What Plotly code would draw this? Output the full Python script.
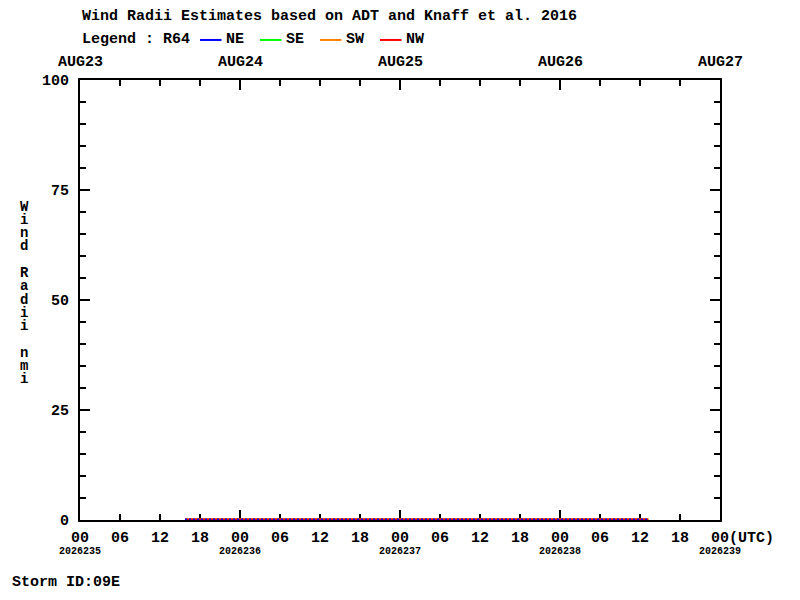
import plotly.graph_objects as go

# R64 wind radii (nmi) per quadrant
times = ["2026-08-23 15:45", "2026-08-23 18:00", "2026-08-23 21:00",
         "2026-08-24 00:00", "2026-08-24 03:00", "2026-08-24 06:00",
         "2026-08-24 09:00", "2026-08-24 12:00", "2026-08-24 15:00",
         "2026-08-24 18:00", "2026-08-24 21:00", "2026-08-25 00:00",
         "2026-08-25 03:00", "2026-08-25 06:00", "2026-08-25 09:00",
         "2026-08-25 12:00", "2026-08-25 15:00", "2026-08-25 18:00",
         "2026-08-25 21:00", "2026-08-26 00:00", "2026-08-26 03:00",
         "2026-08-26 06:00", "2026-08-26 09:00", "2026-08-26 12:00",
         "2026-08-26 13:15"]
r64_ne = [0, 0, 0, 0, 0, 0, 0, 0, 0, 0, 0, 0, 0, 0, 0, 0, 0, 0, 0, 0, 0, 0, 0, 0, 0]
r64_se = [0, 0, 0, 0, 0, 0, 0, 0, 0, 0, 0, 0, 0, 0, 0, 0, 0, 0, 0, 0, 0, 0, 0, 0, 0]
r64_sw = [0, 0, 0, 0, 0, 0, 0, 0, 0, 0, 0, 0, 0, 0, 0, 0, 0, 0, 0, 0, 0, 0, 0, 0, 0]
r64_nw = [0, 0, 0, 0, 0, 0, 0, 0, 0, 0, 0, 0, 0, 0, 0, 0, 0, 0, 0, 0, 0, 0, 0, 0, 0]

hour_ticks = ["2026-08-23 00:00", "2026-08-23 06:00", "2026-08-23 12:00", "2026-08-23 18:00",
              "2026-08-24 00:00", "2026-08-24 06:00", "2026-08-24 12:00", "2026-08-24 18:00",
              "2026-08-25 00:00", "2026-08-25 06:00", "2026-08-25 12:00", "2026-08-25 18:00",
              "2026-08-26 00:00", "2026-08-26 06:00", "2026-08-26 12:00", "2026-08-26 18:00",
              "2026-08-27 00:00"]
hour_labels = ["00", "06", "12", "18", "00", "06", "12", "18", "00", "06", "12", "18",
               "00", "06", "12", "18", "\u00a0" * 5 + "00(UTC)"]
day_ticks = ["2026-08-23", "2026-08-24", "2026-08-25", "2026-08-26", "2026-08-27"]
day_labels = ["AUG23", "AUG24", "AUG25", "AUG26", "AUG27"]
julian_labels = ["2026235", "2026236", "2026237", "2026238", "2026239"]

y_ticks = [0, 25, 50, 75, 100]

title = "Wind Radii Estimates based on ADT and Knaff et al. 2016"
legend_title = "Legend : R64"
quadrants = ["NE", "SE", "SW", "NW"]
colors = {"NE": "#0000ff", "SE": "#00ff00", "SW": "#ff8000", "NW": "#ff0000"}
y_title = "Wind Radii nmi"
storm_id = "Storm ID:09E"

FONT = "Liberation Mono"
series = {"NE": r64_ne, "SE": r64_se, "SW": r64_sw, "NW": r64_nw}

fig = go.Figure()
# red underneath, blue dashed on top, as in the original
for q, dash in [("SE", "solid"), ("SW", "solid"), ("NW", "solid"), ("NE", "2px,2px")]:
    fig.add_trace(go.Scatter(x=times, y=series[q], mode="lines", name=q,
                             line=dict(color=colors[q], width=2, dash=dash),
                             cliponaxis=False, showlegend=False))

# empty trace so the day-tick overlay axis is drawn
fig.add_trace(go.Scatter(x=[], y=[], xaxis="x2", showlegend=False, hoverinfo="skip"))

axis_common = dict(mirror="ticks", ticks="inside", tickcolor="black", tickwidth=2,
                   showgrid=False, zeroline=False, layer="below traces")
line_style = dict(showline=True, linecolor="black", linewidth=2)

# page has an 8px body margin, so the figure is 784x584 placed at (8, 8)
fig.update_layout(
    width=784, height=584,
    margin=dict(l=72, r=72, t=72, b=72),
    plot_bgcolor="white", paper_bgcolor="white",
    font=dict(family=FONT, size=15, color="black"),
    xaxis=dict(type="date", range=[hour_ticks[0], hour_ticks[-1]],
               tickmode="array", tickvals=hour_ticks, ticktext=hour_labels,
               ticklen=6, tickangle=0, ticklabelstandoff=2,
               tickfont=dict(family=FONT, size=15, weight="bold"),
               **line_style, **axis_common),
    xaxis2=dict(type="date", range=[hour_ticks[0], hour_ticks[-1]], overlaying="x",
                anchor="y", side="bottom", tickmode="array", tickvals=day_ticks,
                showticklabels=False, ticklen=10, showline=False, **axis_common),
    # tiny negative pad so the zero-radius lines are not clipped under the frame
    yaxis=dict(range=[-0.12, 100], tickmode="array", tickvals=y_ticks, ticklen=10,
               minor=dict(dtick=5, ticklen=6, tickwidth=2, tickcolor="black", ticks="inside"),
               ticklabelstandoff=6,
               tickfont=dict(family=FONT, size=15, weight="bold"),
               **line_style, **axis_common),
)

bold = dict(family=FONT, size=15, color="black", weight="bold")
annotations = [
    dict(text=title, x=0, y=1.145, xanchor="left", yanchor="middle"),
    dict(text=legend_title, x=0, y=1.091, xanchor="left", yanchor="middle"),
    dict(text=storm_id, x=-0.109, y=-0.141, xanchor="left", yanchor="middle"),
]
for i, q in enumerate(quadrants):
    x0 = 0.1875 + i * 0.09375
    fig.add_shape(type="line", xref="paper", yref="paper", x0=x0, x1=x0 + 0.0336,
                  y0=1.091, y1=1.091, line=dict(color=colors[q], width=2))
    annotations.append(dict(text=q, x=x0 + 0.0375, y=1.091, xanchor="left", yanchor="middle"))
for a in annotations:
    a.update(xref="paper", yref="paper", showarrow=False, font=bold)

for d, lab, jl in zip(day_ticks, day_labels, julian_labels):
    annotations.append(dict(text=lab, x=d, xref="x", y=1.039, yref="paper",
                            showarrow=False, font=bold, xanchor="center", yanchor="middle"))
    annotations.append(dict(text=jl, x=d, xref="x", y=-0.0705, yref="paper",
                            showarrow=False, xanchor="center", yanchor="middle",
                            font=dict(family=FONT, size=10, color="black", weight="bold")))

# stacked vertical y-axis title
for i, ch in enumerate(y_title):
    if ch == " ":
        continue
    annotations.append(dict(text=ch, x=-0.0875, y=0.501 + (7 - i) * 0.0302,
                            xref="paper", yref="paper", showarrow=False,
                            xanchor="center", yanchor="middle",
                            font=dict(family=FONT, size=14, color="black", weight="bold")))

fig.update_layout(annotations=annotations)

fig.write_html("out.html")
